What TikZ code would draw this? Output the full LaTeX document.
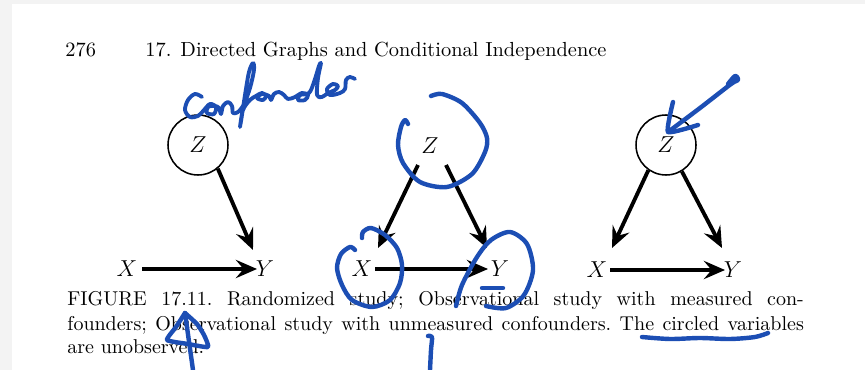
\documentclass[tikz,border=0pt]{standalone}
\usetikzlibrary{arrows.meta,calc}
\definecolor{ink}{RGB}{28,78,180}
\definecolor{framegray}{RGB}{243,243,243}
\begin{document}
\begin{tikzpicture}[x=0.52pt,y=-0.52pt,
  lbl/.style={inner sep=0pt, font=\fontsize{11.5}{12}\selectfont},
  circ/.style={circle, draw, line width=0.8pt, minimum size=31.2pt},
  arr/.style={line width=2pt, -{Stealth[length=11pt,width=9.5pt,inset=4pt]}},
  txt/.style={anchor=base west, inner sep=0pt, font=\fontsize{10.6}{12}\selectfont},
  captxt/.style={anchor=base west, inner sep=0pt, font=\fontsize{10.4}{12}\selectfont\frenchspacing},
  pen/.style={draw=ink, line width=2.3pt, line cap=round, line join=round},
  thinpen/.style={draw=ink, line width=2pt, line cap=round, line join=round}]
\useasboundingbox (0,0) rectangle (865,370);
\fill[framegray] (0,0) rectangle (865,4);
\fill[framegray] (0,0) rectangle (12,370);
% header
\node[txt] (pg) at (65,57) {276};
\node[txt] (hd) at (145,57) {17. Directed Graphs and Conditional Independence};
% diagram 1
\node[circ, lbl] (z1) at (198,145) {$Z$};
\node[lbl] (x1) at (127,269) {$X$};
\node[lbl] (y1) at (265,269) {$Y$};
\draw[arr] (z1.-50) -- ($(y1)+(-12,-19)$);
\draw[arr] ($(x1)+(15,0)$) -- ($(y1)+(-8,0)$);
% diagram 2
\node[lbl] (z2) at (430,146) {$Z$};
\node[lbl] (x2) at (362,269) {$X$};
\node[lbl] (y2) at (500,269) {$Y$};
\draw[arr] ($(z2)+(-12,19)$) -- ($(x2)+(16,-21)$);
\draw[arr] ($(z2)+(16,19)$) -- ($(y2)+(-13,-21)$);
\draw[arr] ($(x2)+(13,0)$) -- ($(y2)+(-12,0)$);
% diagram 3
\node[circ, lbl] (z3) at (666,145) {$Z$};
\node[lbl] (x3) at (597,270) {$X$};
\node[lbl] (y3) at (733,270) {$Y$};
\draw[arr] (z3.-125) -- ($(x3)+(15,-22)$);
\draw[arr] (z3.-59) -- ($(y3)+(-11,-22)$);
\draw[arr] ($(x3)+(13,0)$) -- ($(y3)+(-8,0)$);
% caption
\node[captxt] (c1) at (67,305) {\makebox[383pt][s]{FIGURE 17.11. Randomized study; Observational study with measured con-}};
\node[captxt] (c2) at (67,330) {\makebox[383pt][s]{founders; Observational study with unmeasured confounders. The circled variables}};
\node[captxt] (c3) at (67,353) {are unobserved.};
% handwritten annotations
\draw[thinpen] plot[smooth, tension=0.55] coordinates {(202,97) (195,94) (188,100) (185,110) (190,117) (198,116) (204,110) (210,104) (216,107) (214,114) (207,113) (208,107) (215,106) (219,108) (221,114) (223,106) (228,102) (232,106) (233,113) (238,112) (244,104) (250,88) (254,70) (253,63) (249,72) (245,95) (242,115) (240,127) (243,110) (250,100) (256,96) (262,93) (266,96) (263,100) (257,98) (262,94) (269,96) (271,100) (274,94) (279,92) (284,95) (288,99) (295,97) (302,93) (308,95) (305,100) (298,100) (300,95) (309,93) (314,82) (319,66) (321,63) (318,78) (317,95) (322,97) (328,93) (335,90) (338,86) (333,84) (327,89) (330,95) (340,93) (345,89) (346,80) (350,77) (355,79)};
\draw[pen] plot[smooth] coordinates {(408,124) (405,120) (401,127) (398,145) (403,163) (420,182) (447,187) (472,174) (485,152) (487,138) (480,123) (462,103) (442,94) (431,96)};
\draw[pen] plot[smooth] coordinates {(355,250) (350,247) (341,254) (337,268) (342,285) (352,300) (372,307) (390,300) (400,283) (402,265) (397,248) (385,235) (371,228) (363,232) (362,238)};
\draw[pen] plot[smooth] coordinates {(456,306) (462,285) (477,257) (491,240) (510,232) (527,244) (533,270) (524,295) (506,308) (486,306)};
\draw[pen] (482,288) -- (503,288);
\draw[pen] plot[smooth] coordinates {(728,84) (735,76) (738,80) (731,84) (700,108) (668,132)};
\draw[pen] plot[smooth, tension=0.3] coordinates {(673,102) (668,132) (698,125)};
\draw[pen] plot[smooth, tension=0.3] coordinates {(185,313) (176,327) (167,340) (188,344) (208,347) (204,335) (197,324) (185,313)};
\draw[pen] (185,313) -- (193,370);
\draw[pen] plot[smooth] coordinates {(642,337) (670,339) (700,338) (730,339) (755,337) (768,333)};
\draw[pen] plot[smooth] coordinates {(428,336) (432,337) (431,350) (430,370)};
\end{tikzpicture}
\end{document}
